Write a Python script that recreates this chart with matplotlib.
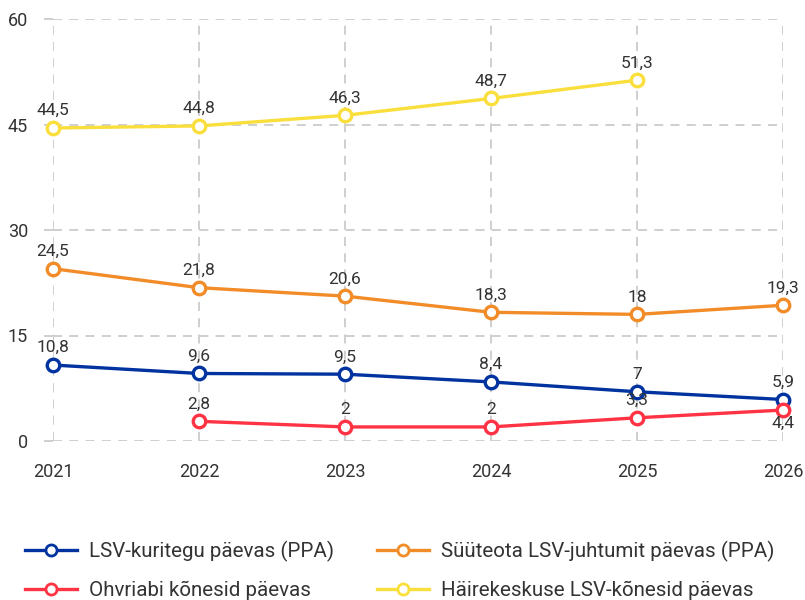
import matplotlib
matplotlib.use("Agg")
import matplotlib.pyplot as plt
from matplotlib.lines import Line2D

plt.rcParams['font.family'] = ['Roboto', 'DejaVu Sans']

years = [2021, 2022, 2023, 2024, 2025, 2026]
kuritegu = [10.8, 9.6, 9.5, 8.4, 7, 5.9]
suuteota = [24.5, 21.8, 20.6, 18.3, 18, 19.3]
ohvriabi_years = [2022, 2023, 2024, 2025, 2026]
ohvriabi = [2.8, 2, 2, 3.3, 4.4]
hairekeskus_years = [2021, 2022, 2023, 2024, 2025]
hairekeskus = [44.5, 44.8, 46.3, 48.7, 51.3]
y_ticks = [0, 15, 30, 45, 60]

names = ["LSV-kuritegu päevas (PPA)", "Süüteota LSV-juhtumit päevas (PPA)",
         "Ohvriabi kõnesid päevas", "Häirekeskuse LSV-kõnesid päevas"]
colors = ["#0033A0", "#F28C28", "#FF3344", "#FADF3C"]

fig = plt.figure(figsize=(8.05, 6), dpi=100)
ax = fig.add_axes([53/805, 1-441/600, (783-53)/805, (441-19)/600])

series = [(years, kuritegu), (years, suuteota), (ohvriabi_years, ohvriabi),
          (hairekeskus_years, hairekeskus)]

def fmt(v):
    return ('%g' % v).replace('.', ',')

for i, ((xs, ys), c) in enumerate(zip(series, colors)):
    ax.plot(xs, ys, color=c, lw=2.4, marker='o', ms=9, mfc='white', mec=c,
            mew=2.4, clip_on=False, zorder=3 + i * 0.1)
    for x, y in zip(xs, ys):
        if i == 2 and x == 2026:
            dy, va = -4, 'top'
        else:
            dy, va = 7, 'bottom'
        ax.annotate(fmt(y), (x, y), xytext=(0, dy), textcoords='offset points',
                    ha='center', va=va, fontsize=12.5, color='#333333', zorder=5)

ax.set_xlim(2021, 2026)
ax.set_ylim(0, 60)
ax.set_yticks(y_ticks)
ax.set_xticks(years)
ax.set_xticklabels([str(y) for y in years])
for s in ax.spines.values():
    s.set_visible(False)
ax.grid(True, color='#cccccc', linestyle=(0, (5, 4)), lw=1.3)
ax.set_axisbelow(True)
ax.tick_params(axis='y', length=6.5, color='#cccccc', width=1.3, labelsize=13,
               labelcolor='#333333', pad=11.5)
ax.tick_params(axis='x', length=0, labelsize=13, labelcolor='#333333', pad=16)

order = [0, 2, 1, 3]
handles = [Line2D([0], [0], color=colors[k], lw=2.4, marker='o', ms=8,
                  mfc='white', mec=colors[k], mew=2) for k in order]
fig.legend(handles, [names[k] for k in order], loc='upper left',
           bbox_to_anchor=(25/805, 1-541/600), ncol=2, frameon=False,
           fontsize=14.8, handlelength=2.53, columnspacing=2.1,
           labelspacing=0.9, handletextpad=0.58, borderpad=0,
           borderaxespad=0, labelcolor='#333333')

fig.savefig('out.png', dpi=100)
